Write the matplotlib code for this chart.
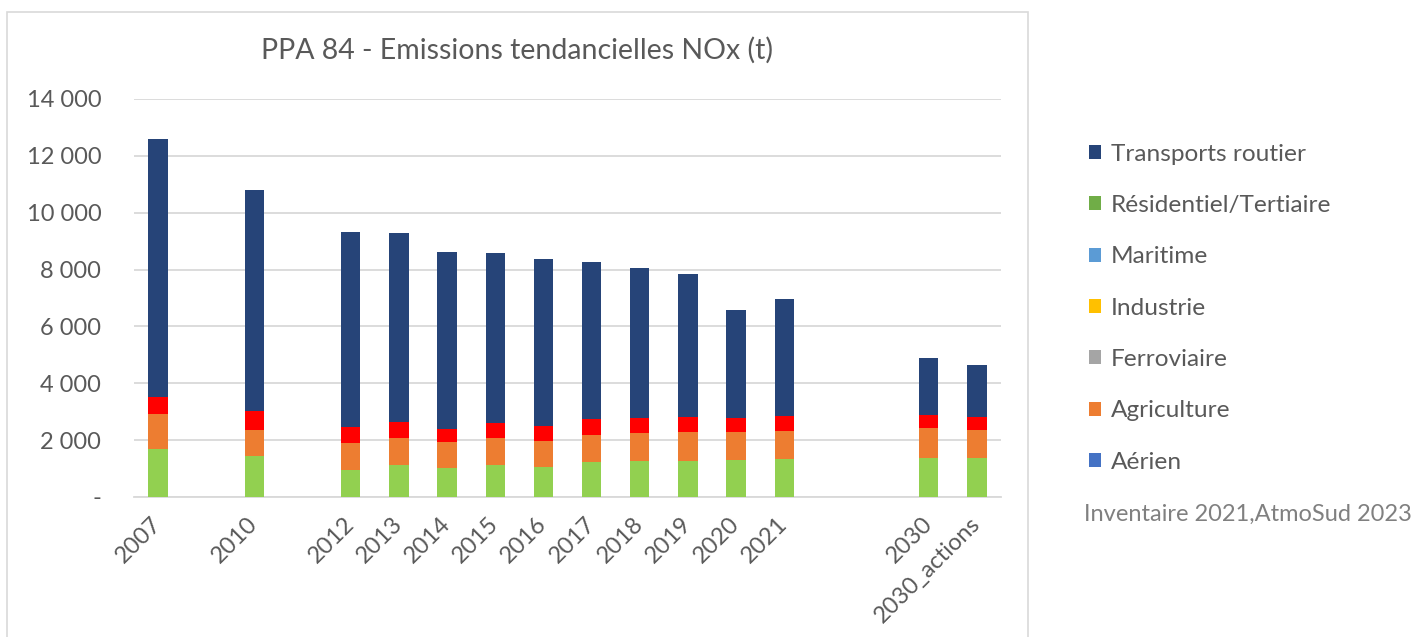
import matplotlib
matplotlib.use("Agg")
import matplotlib.pyplot as plt
from matplotlib.patches import Patch, Rectangle
from matplotlib.ticker import FuncFormatter
import numpy as np

plt.rcParams['font.family'] = ['Lato', 'DejaVu Sans']

# Category slots (empty strings are blank gaps on the axis)
categories = ["2007", "", "2010", "", "2012", "2013", "2014", "2015", "2016",
              "2017", "2018", "2019", "2020", "2021", "", "", "2030", "2030_actions"]

# Segment values (t NOx), None for empty slots
residentiel = [1680, None, 1430, None, 950, 1110, 1020, 1130, 1060, 1230, 1270, 1270, 1300, 1340, None, None, 1370, 1370]
agriculture = [1240, None, 940, None, 950, 960, 910, 950, 910, 950, 980, 1020, 990, 980, None, None, 1050, 990]
industrie   = [590, None, 670, None, 550, 560, 460, 520, 530, 560, 530, 520, 490, 530, None, None, 480, 440]
transports  = [9080, None, 7760, None, 6870, 6670, 6230, 5980, 5870, 5530, 5270, 5030, 3800, 4110, None, None, 1990, 1840]

legend_labels = ["Transports routier", "Résidentiel/Tertiaire", "Maritime", "Industrie",
                 "Ferroviaire", "Agriculture", "Aérien"]
legend_colors = ["#264478", "#70AD47", "#5B9BD5", "#FFC000", "#A5A5A5", "#ED7D31", "#4472C4"]

title = "PPA 84 - Emissions tendancielles NOx (t)"
source = "Inventaire 2021,AtmoSud 2023"

def arr(v):
    return np.array([np.nan if x is None else x for x in v], dtype=float)

fig = plt.figure(figsize=(14.19, 6.37), dpi=100)
ax = fig.add_axes([0.0944, 0.2198, 0.7054 - 0.0944, 0.8446 - 0.2198])

x = np.arange(len(categories))
w = 0.4
bottom = np.zeros(len(categories))
for vals, col in [(residentiel, "#92D050"), (agriculture, "#ED7D31"),
                  (industrie, "#FF0000"), (transports, "#264478")]:
    v = arr(vals)
    ax.bar(x, np.nan_to_num(v), width=w, bottom=bottom, color=col, zorder=3)
    bottom = bottom + np.nan_to_num(v)

ax.set_xlim(-0.5, len(categories) - 0.5)
ax.set_ylim(0, 14000)
ax.set_yticks(np.arange(0, 14001, 2000))
ax.yaxis.set_major_formatter(FuncFormatter(
    lambda v, p: "-" if v == 0 else f"{int(v):,}".replace(",", " ")))
ax.grid(axis='y', color="#D9D9D9", linewidth=1.3, zorder=0)
for s in ["top", "right", "left"]:
    ax.spines[s].set_visible(False)
ax.spines["bottom"].set_color("#D9D9D9")
ax.spines["bottom"].set_linewidth(1.3)
ax.tick_params(axis='y', length=0, labelsize=17, labelcolor="#595959", pad=23.5)
ax.tick_params(axis='x', length=0, labelsize=17, labelcolor="#595959", pad=17)
ax.set_xticks(x)
ax.set_xticklabels(categories, rotation=45, ha='right', rotation_mode='anchor', va='center')

fig.text(0.3643, 0.921, title, ha='center', va='center', fontsize=20.5, color="#595959")

handles = [Patch(facecolor=c, edgecolor='none') for c in legend_colors]
fig.legend(handles, legend_labels, loc='upper left', bbox_to_anchor=(0.752, 0.809),
           frameon=False, fontsize=17.6, labelcolor="#595959", labelspacing=1.24,
           handlelength=0.5, handleheight=0.5, handletextpad=0.4)

fig.text(0.764, 0.193, source, ha='left', va='center', fontsize=17, color="#808080")

fig.patches.append(Rectangle((0.005, -0.01), 0.7195, 0.991, transform=fig.transFigure,
                             fill=False, edgecolor="#D9D9D9", linewidth=1.2))

fig.savefig("out.png", dpi=100)
